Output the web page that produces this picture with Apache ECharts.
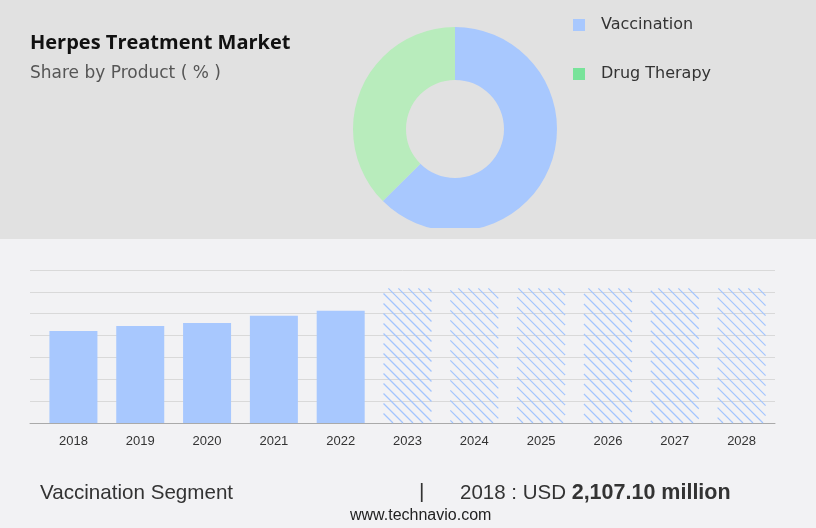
<!DOCTYPE html>
<html>
<head>
<meta charset="utf-8">
<script src="https://cdn.jsdelivr.net/npm/echarts@6/dist/echarts.min.js"></script>
<style>
    html, body { margin: 0; padding: 0; background: #f2f2f4; }
    #main { width: 816px; height: 528px; }
</style>
</head>
<body>
<div id="main"></div>
<script>
// 数据
var shareNames = ['Vaccination', 'Drug Therapy'];
var shareValues = [62.5, 37.5];
var shareColors = ['#a8c8fe', '#b8ecbc'];
var legendColors = ['#a8c8fe', '#78e39a'];

var years = ['2018', '2019', '2020', '2021', '2022', '2023', '2024', '2025', '2026', '2027', '2028'];
var actualValues = [2107.1, 2220, 2285, 2455, 2570, null, null, null, null, null, null];
var forecastValues = [null, null, null, null, null, 3080, 3080, 3080, 3080, 3080, 3080];

var chart = echarts.init(document.getElementById('main'));

function toPoints(arr) {
    var out = [];
    for (var i = 0; i < arr.length; i++) {
        if (arr[i] != null) out.push([i, arr[i]]);
    }
    return out;
}

// 预测柱：斜线填充
function renderHatch(params, api) {
    var top = api.coord([api.value(0), api.value(1)]);
    var base = api.coord([api.value(0), 0]);
    var half = 24;
    var x0 = top[0] - half, x1 = top[0] + half;
    var y0 = top[1], y1 = base[1];
    var step = 10;
    var children = [];
    var kStart = Math.floor((x0 - y1) / step) * step;
    for (var k = kStart; k <= x1 - y0; k += step) {
        var ys = Math.max(y0, x0 - k);
        var ye = Math.min(y1, x1 - k);
        if (ye - ys < 0.5) continue;
        children.push({
            type: 'line',
            shape: { x1: ys + k, y1: ys, x2: ye + k, y2: ye },
            style: { stroke: '#a3c5fe', lineWidth: 1.2 }
        });
    }
    return { type: 'group', children: children };
}

var option = {
    backgroundColor: '#f2f2f4',
    animation: false,
    graphic: [
        { type: 'rect', z: -10, shape: { x: 0, y: 0, width: 816, height: 239 }, style: { fill: '#e1e1e1' } },
        { type: 'rect', z: 100, shape: { x: 340, y: 228, width: 240, height: 11 }, style: { fill: '#e1e1e1' } },
        { type: 'text', left: 30, top: 33, style: { text: 'Herpes Treatment Market', font: 'bold 20px "Open Sans", sans-serif', fill: '#111' } },
        { type: 'text', left: 30, top: 65, style: { text: 'Share by Product ( % )', font: '17px "DejaVu Sans", sans-serif', fill: '#555' } },
        { type: 'text', left: 40, top: 483, style: { text: 'Vaccination Segment', font: '20.6px "Liberation Sans", sans-serif', fill: '#333' } },
        { type: 'text', left: 419, top: 482, style: { text: '|', font: '21px "Liberation Sans", sans-serif', fill: '#333' } },
        {
            type: 'text', left: 460, top: 482,
            style: {
                text: '{n|2018 : USD }{b|2,107.10 million}',
                rich: {
                    n: { font: '20.5px "Liberation Sans", sans-serif', fill: '#333' },
                    b: { font: 'bold 21.5px "Liberation Sans", sans-serif', fill: '#333' }
                }
            }
        },
        { type: 'text', left: 350, top: 508, style: { text: 'www.technavio.com', font: '16px "Liberation Sans", sans-serif', fill: '#222' } }
    ],
    legend: {
        orient: 'vertical',
        left: 568,
        top: 12,
        itemWidth: 12,
        itemHeight: 12,
        itemGap: 33,
        icon: 'rect',
        textStyle: { fontSize: 16, color: '#333', fontFamily: 'DejaVu Sans', padding: [0, 0, 0, 11] },
        data: [
            { name: shareNames[0], itemStyle: { color: legendColors[0] } },
            { name: shareNames[1], itemStyle: { color: legendColors[1] } }
        ]
    },
    grid: { left: 30, right: 41, top: 270, bottom: 105, containLabel: false },
    xAxis: {
        type: 'value',
        min: -0.65,
        max: 10.5,
        splitLine: { show: false },
        axisLine: { show: true, onZero: false, lineStyle: { color: '#aaaaaa' } },
        axisTick: { show: false },
        axisLabel: {
            customValues: [0, 1, 2, 3, 4, 5, 6, 7, 8, 9, 10],
            color: '#333',
            fontSize: 13,
            margin: 12,
            fontFamily: 'Liberation Sans',
            formatter: function (v) { return years[Math.round(v)]; }
        }
    },
    yAxis: {
        type: 'value',
        min: 0,
        max: 3500,
        interval: 500,
        axisLabel: { show: false },
        axisLine: { show: false },
        axisTick: { show: false },
        splitLine: { lineStyle: { color: '#d9d9d9' } }
    },
    series: [
        {
            name: 'Share',
            type: 'pie',
            radius: [49, 102],
            center: [455, 129],
            startAngle: 90,
            clockwise: true,
            label: { show: false },
            labelLine: { show: false },
            silent: true,
            data: [
                { name: shareNames[0], value: shareValues[0], itemStyle: { color: shareColors[0] } },
                { name: shareNames[1], value: shareValues[1], itemStyle: { color: shareColors[1] } }
            ]
        },
        {
            name: 'Actual',
            type: 'bar',
            barWidth: 48,
            itemStyle: { color: '#a8c8fe' },
            data: toPoints(actualValues)
        },
        {
            name: 'Forecast',
            type: 'custom',
            renderItem: renderHatch,
            encode: { x: 0, y: 1 },
            data: toPoints(forecastValues)
        }
    ]
};

chart.setOption(option);
</script>
</body>
</html>
